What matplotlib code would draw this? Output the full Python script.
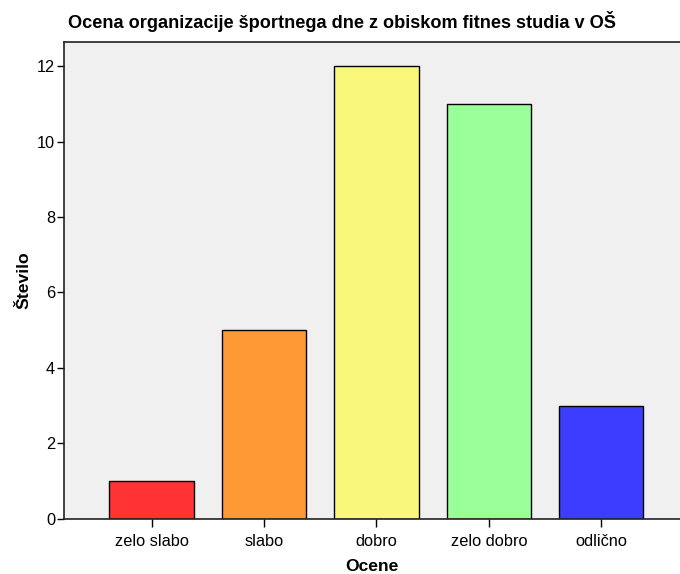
import matplotlib.pyplot as plt
import numpy as np

plt.rcParams['font.family'] = ['Liberation Sans', 'DejaVu Sans']

# Data
categories = ['zelo slabo', 'slabo', 'dobro', 'zelo dobro', 'odlično']
counts = [1, 5, 12, 11, 3]
colors = ['#ff3334', '#ff9933', '#faf87a', '#99ff99', '#3d3dff']

fig = plt.figure(figsize=(6.8, 5.74), dpi=100)
ax = fig.add_axes([0.0934, 0.0963, 0.9066, 0.8311])
ax.set_facecolor('#f0f0f0')

x = np.arange(len(categories))
ax.bar(x, counts, width=0.75, color=colors, edgecolor='black', linewidth=1.0, zorder=2)

ax.set_xlim(-0.783, 4.70)
ax.set_ylim(0, 12.65)
ax.set_xticks(x)
ax.set_xticklabels(categories, fontsize=11.8)
ax.set_yticks([0, 2, 4, 6, 8, 10, 12])
ax.tick_params(axis='y', labelsize=11.8, length=5, width=1, pad=1)
ax.tick_params(axis='x', length=6, width=1, pad=5)

for side in ['left', 'bottom', 'top']:
    ax.spines[side].set_linewidth(1.2)
    ax.spines[side].set_color('#222222')
ax.spines['right'].set_visible(False)

ax.set_xlabel('Ocene', fontsize=12.6, fontweight='bold', labelpad=7)
ax.set_ylabel('Število', fontsize=12.6, fontweight='bold', labelpad=4)
fig.text(0.1, 0.962, 'Ocena organizacije športnega dne z obiskom fitnes studia v OŠ',
         fontsize=13.1, fontweight='bold', va='center', ha='left')

fig.savefig('out.png', dpi=100)
